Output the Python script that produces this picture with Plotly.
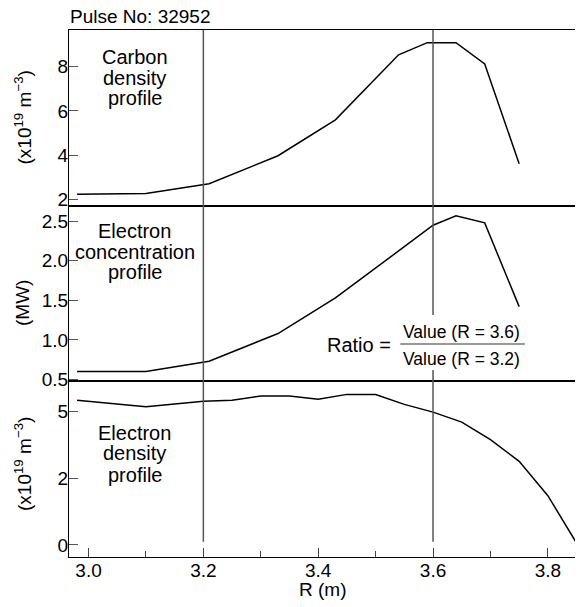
import plotly.graph_objects as go
from plotly.subplots import make_subplots

# Carbon density profile (x10^19 m^-3)
r_carbon = [2.98, 3.10, 3.21, 3.33, 3.43, 3.54, 3.59, 3.64, 3.69, 3.75]
carbon_density = [2.25, 2.28, 2.72, 3.98, 5.6, 8.53, 9.08, 9.08, 8.12, 3.62]

# Electron concentration profile (MW)
r_conc = [2.98, 3.10, 3.21, 3.33, 3.43, 3.54, 3.60, 3.64, 3.69, 3.75]
electron_conc = [0.60, 0.60, 0.73, 1.08, 1.53, 2.13, 2.45, 2.57, 2.48, 1.42]

# Electron density profile (x10^19 m^-3)
r_ne = [2.98, 3.10, 3.20, 3.25, 3.30, 3.35, 3.40, 3.45, 3.50, 3.55,
        3.60, 3.65, 3.70, 3.75, 3.80, 3.85]
electron_density = [5.54, 5.22, 5.49, 5.53, 5.75, 5.75, 5.58, 5.83, 5.82, 5.33,
                    4.95, 4.47, 3.66, 2.71, 1.36, 0.02]

x_ticks = [3.0, 3.2, 3.4, 3.6, 3.8]
carbon_ticks = [2, 4, 6, 8]
conc_ticks = [0.5, 1.0, 1.5, 2.0, 2.5]
ne_ticks = [0, 2, 5]
ratio_positions = [3.2, 3.6]

# the electron density axis in the original is compressed towards the top
NE_POWER = 0.767


def ne_scale(v):
    return v ** NE_POWER


FONT = "Liberation Sans, Arial, sans-serif"
LINE = dict(color="black", width=1.5)

fig = make_subplots(rows=3, cols=1, shared_xaxes=True, vertical_spacing=0)

fig.add_trace(go.Scatter(x=r_carbon, y=carbon_density, mode="lines", line=LINE), row=1, col=1)
fig.add_trace(go.Scatter(x=r_conc, y=electron_conc, mode="lines", line=LINE), row=2, col=1)
fig.add_trace(go.Scatter(x=r_ne, y=[ne_scale(v) for v in electron_density],
                         mode="lines", line=LINE), row=3, col=1)

axis_common = dict(showline=True, linecolor="black", linewidth=1.2, mirror=True,
                   showgrid=False, zeroline=False,
                   tickfont=dict(family=FONT, size=19, color="black"))

for row in (1, 2, 3):
    fig.update_xaxes(range=[2.966, 3.849], **axis_common, row=row, col=1)
fig.update_xaxes(showticklabels=False, ticks="", row=1, col=1)
fig.update_xaxes(showticklabels=False, ticks="", row=2, col=1)
fig.update_xaxes(tickvals=x_ticks, tickformat=".1f", ticks="inside", ticklen=9,
                 tickcolor="#444", tickwidth=1.2, ticklabelstandoff=-4,
                 minor=dict(dtick=0.1, tick0=3.0, ticks="inside", ticklen=6,
                            tickcolor="#444", tickwidth=1.2),
                 row=3, col=1)

y_common = dict(ticks="inside", ticklen=9, tickcolor="#555", ticklabelstandoff=-4, **axis_common)
fig.update_yaxes(range=[1.73, 9.65], tickvals=carbon_ticks, **y_common, row=1, col=1)
fig.update_yaxes(range=[0.475, 2.698], tickvals=conc_ticks, tickformat=".1f",
                 **y_common, row=2, col=1)
fig.update_yaxes(range=[-0.309, 4.201], tickvals=[ne_scale(v) for v in ne_ticks],
                 ticktext=[str(v) for v in ne_ticks], **y_common, row=3, col=1)

# vertical reference lines at R = 3.2 and R = 3.6
for r in ratio_positions:
    fig.add_shape(type="line", xref="x3", yref="paper", x0=r, x1=r, y0=0.029, y1=1,
                  line=dict(color="#555", width=1.5), layer="above")

# white patch behind the ratio formula, fraction bar
fig.add_shape(type="rect", xref="x3", yref="paper", x0=3.56, x1=3.64, y0=0.355, y1=0.459,
              fillcolor="white", line=dict(width=0), layer="above")
fig.add_shape(type="line", xref="x3", yref="paper", x0=3.543, x1=3.76, y0=0.4042, y1=0.4042,
              line=dict(color="#333", width=1.2), layer="above")


def add_text(text, x, y, size=20, xref="paper", xanchor="center", color="black", **kw):
    fig.add_annotation(text=text, x=x, y=y, xref=xref, yref="paper", showarrow=False,
                       xanchor=xanchor, yanchor="middle",
                       font=dict(family=FONT, size=size, color=color), **kw)


def add_label(lines, y_positions):
    for line, y in zip(lines, y_positions):
        add_text(line, 0.130, y)


add_label(["Carbon", "density", "profile"], [0.9493, 0.9083, 0.8704])
add_label(["Electron", "concentration", "profile"], [0.6192, 0.5793, 0.5414])
add_label(["Electron", "density", "profile"], [0.2347, 0.1968, 0.1556])

add_text("Ratio =", 3.4716, 0.4023, xref="x3")
add_text("Value (R = 3.6)", 3.650, 0.4264, size=17.5, xref="x3")
add_text("Value (R = 3.2)", 3.650, 0.3751, size=17.5, xref="x3")

add_text("Pulse No: 32952", -0.002, 1.026, size=19, xanchor="left")
add_text("R (m)", 0.5, -0.0615, size=19)

add_text("(x10<sup>19</sup> m<sup>\u22123</sup>)", -0.0907, 0.834, size=19, textangle=-90)
add_text("(MW)", -0.0907, 0.482, size=19, textangle=-90)
add_text("(x10<sup>19</sup> m<sup>\u22123</sup>)", -0.0907, 0.1765, size=19, textangle=-90)

# small figure reference code along the right edge
add_text("JG99.300/10c", 1.0, 0.07, size=8, color="#333", textangle=-90, xanchor="left")

# the page adds an 8px body margin, so the figure is 8px smaller than the window
fig.update_layout(
    width=575, height=599,
    margin=dict(l=61, r=7, t=22, b=50),
    paper_bgcolor="white", plot_bgcolor="white",
    showlegend=False,
)

fig.write_html("out.html")
